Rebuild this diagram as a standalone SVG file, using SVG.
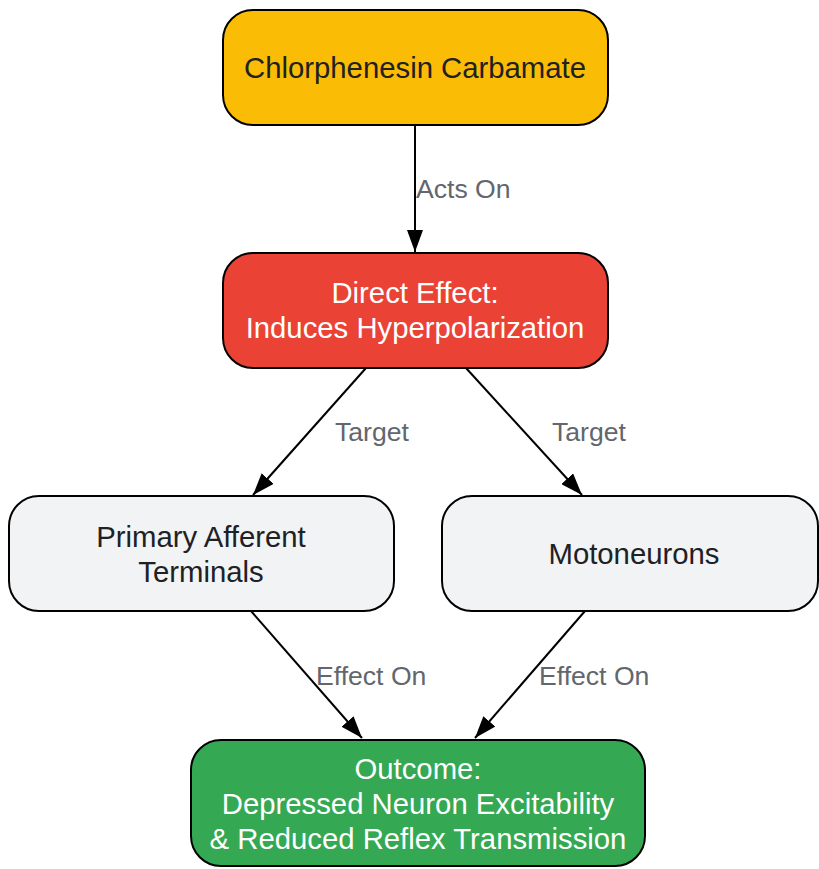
<svg xmlns="http://www.w3.org/2000/svg" width="819" height="869" viewBox="0 0 819 869">
<style>
.box{stroke:#000;stroke-width:2}
.t{font-family:"Liberation Sans",Arial,sans-serif;font-size:29.3px;text-anchor:middle}
.dark{fill:#202124}
.light{fill:#fff}
.lbl{font-family:"Liberation Sans",Arial,sans-serif;font-size:26.6px;fill:#62666d}
.edge{stroke:#000;stroke-width:2;fill:none}
</style>
<defs>
<marker id="arr" viewBox="0 0 22 16" refX="22" refY="8" markerWidth="22" markerHeight="16" markerUnits="userSpaceOnUse" orient="auto">
<path d="M0,0 L22,8 L0,16 Z" fill="#000"/>
</marker>
</defs>
<rect width="819" height="869" fill="#fff"/>
<g id="connectors">
<line class="edge" x1="415" y1="125" x2="415" y2="252" marker-end="url(#arr)"/>
<text class="lbl" x="416" y="198">Acts On</text>
<line class="edge" x1="366" y1="368" x2="253" y2="495" marker-end="url(#arr)"/>
<text class="lbl" x="335" y="441">Target</text>
<line class="edge" x1="466" y1="368" x2="582" y2="495" marker-end="url(#arr)"/>
<text class="lbl" x="552" y="441">Target</text>
<line class="edge" x1="251" y1="611" x2="362" y2="738" marker-end="url(#arr)"/>
<text class="lbl" x="316" y="685">Effect On</text>
<line class="edge" x1="585" y1="611" x2="475" y2="738" marker-end="url(#arr)"/>
<text class="lbl" x="539" y="685">Effect On</text>
</g>
<g id="node-chlorphenesin">
<rect class="box" x="223" y="10" width="385" height="115" rx="30" fill="#FBBC05"/>
<text class="t dark" x="415" y="78">Chlorphenesin Carbamate</text>
</g>
<g id="node-direct-effect">
<rect class="box" x="223" y="253" width="385" height="115" rx="30" fill="#EA4335"/>
<text class="t light" x="415" y="303">Direct Effect:</text>
<text class="t light" x="415" y="338">Induces Hyperpolarization</text>
</g>
<g id="node-primary-afferent">
<rect class="box" x="9" y="496" width="385" height="115" rx="30" fill="#F1F3F4"/>
<text class="t dark" x="201" y="547">Primary Afferent</text>
<text class="t dark" x="201" y="582">Terminals</text>
</g>
<g id="node-motoneurons">
<rect class="box" x="442" y="496" width="376" height="115" rx="30" fill="#F1F3F4"/>
<text class="t dark" x="634" y="564">Motoneurons</text>
</g>
<g id="node-outcome">
<rect class="box" x="191" y="740" width="454" height="126" rx="30" fill="#34A853"/>
<text class="t light" x="418" y="779">Outcome:</text>
<text class="t light" x="418" y="814">Depressed Neuron Excitability</text>
<text class="t light" x="418" y="849">&amp; Reduced Reflex Transmission</text>
</g>
</svg>
